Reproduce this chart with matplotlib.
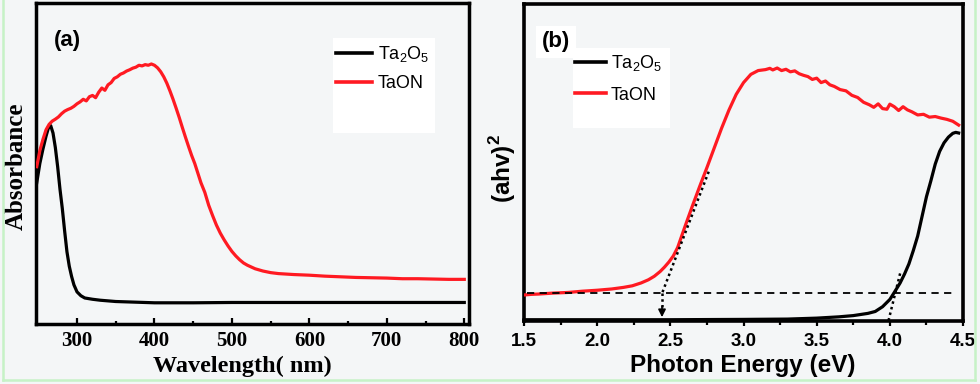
import matplotlib
matplotlib.use("Agg")
import matplotlib.pyplot as plt
from matplotlib.patches import Rectangle
from matplotlib.lines import Line2D

# ---------------- data: panel (a) ----------------
wl_taon = [248, 252, 256, 260, 264, 268, 272, 276, 280, 284, 288, 292, 296, 300, 304, 308,
           312, 316, 320, 324, 328, 332, 336, 340, 344, 348, 352, 356, 360, 364, 368, 372,
           376, 380, 384, 388, 392, 396, 400, 404, 408, 412, 416, 420, 424, 428, 432, 436,
           440, 444, 448, 452, 456, 460, 465, 470, 475, 480, 485, 490, 495, 500, 505, 510,
           515, 520, 530, 540, 550, 560, 580, 600, 620, 640, 660, 680, 700, 720, 740, 760,
           780, 800]
abs_taon = [0.490, 0.540, 0.575, 0.605, 0.622, 0.632, 0.638, 0.645, 0.655, 0.663, 0.668, 0.672,
            0.678, 0.686, 0.692, 0.700, 0.695, 0.708, 0.712, 0.705, 0.722, 0.735, 0.728, 0.745,
            0.752, 0.765, 0.770, 0.778, 0.782, 0.788, 0.792, 0.797, 0.800, 0.806, 0.804, 0.808,
            0.806, 0.810, 0.806, 0.798, 0.786, 0.770, 0.750, 0.726, 0.700, 0.672, 0.643, 0.612,
            0.582, 0.553, 0.525, 0.500, 0.470, 0.440, 0.410, 0.370, 0.338, 0.308, 0.283, 0.262,
            0.243, 0.226, 0.212, 0.200, 0.190, 0.183, 0.172, 0.165, 0.160, 0.157, 0.154, 0.152,
            0.149, 0.147, 0.145, 0.144, 0.143, 0.141, 0.141, 0.140, 0.139, 0.139]

wl_ta2o5 = [248, 252, 256, 260, 263, 266, 269, 272, 275, 278, 281, 284, 287, 290, 293, 296,
            300, 305, 310, 320, 330, 350, 400, 450, 500, 600, 700, 800]
abs_ta2o5 = [0.440, 0.500, 0.545, 0.585, 0.610, 0.618, 0.595, 0.550, 0.490, 0.420, 0.360, 0.290,
             0.225, 0.180, 0.148, 0.122, 0.100, 0.088, 0.081, 0.077, 0.074, 0.070, 0.066, 0.066,
             0.067, 0.067, 0.067, 0.067]

# ---------------- data: panel (b) ----------------
e_taon = [1.50, 1.55, 1.60, 1.70, 1.80, 1.90, 2.00, 2.10, 2.18, 2.24, 2.30, 2.35, 2.39, 2.43,
          2.46, 2.49, 2.52, 2.55, 2.60, 2.65, 2.70, 2.75, 2.80, 2.85, 2.90, 2.95, 3.00, 3.05,
          3.10, 3.15, 3.18, 3.20, 3.23, 3.26, 3.29, 3.32, 3.35, 3.38, 3.41, 3.44, 3.47, 3.50,
          3.53, 3.56, 3.59, 3.62, 3.66, 3.70, 3.74, 3.78, 3.82, 3.86, 3.89, 3.92, 3.95, 3.98,
          4.00, 4.03, 4.06, 4.09, 4.12, 4.15, 4.19, 4.23, 4.27, 4.31, 4.35, 4.39, 4.43, 4.47]
ahv_taon = [0.082, 0.084, 0.085, 0.088, 0.090, 0.094, 0.097, 0.101, 0.106, 0.111, 0.120, 0.130,
            0.141, 0.156, 0.170, 0.186, 0.205, 0.232, 0.298, 0.362, 0.424, 0.484, 0.546, 0.608,
            0.665, 0.715, 0.752, 0.778, 0.790, 0.793, 0.797, 0.792, 0.798, 0.790, 0.794, 0.786,
            0.789, 0.780, 0.775, 0.771, 0.762, 0.766, 0.752, 0.757, 0.745, 0.740, 0.730, 0.726,
            0.712, 0.705, 0.690, 0.682, 0.674, 0.685, 0.670, 0.668, 0.684, 0.676, 0.664, 0.676,
            0.666, 0.660, 0.650, 0.652, 0.643, 0.645, 0.640, 0.636, 0.630, 0.618]

e_ta2o5 = [1.50, 2.00, 2.50, 3.00, 3.30, 3.50, 3.65, 3.75, 3.85, 3.90, 3.95, 4.00, 4.03, 4.07,
           4.10, 4.13, 4.16, 4.19, 4.22, 4.25, 4.28, 4.31, 4.34, 4.37, 4.40, 4.43, 4.45, 4.47]
ahv_ta2o5 = [0.004, 0.004, 0.004, 0.005, 0.006, 0.009, 0.013, 0.017, 0.024, 0.030, 0.045, 0.068,
             0.090, 0.120, 0.148, 0.180, 0.222, 0.268, 0.330, 0.392, 0.442, 0.495, 0.535, 0.562,
             0.580, 0.592, 0.595, 0.593]

base_x = [1.52, 4.43]
base_y = [0.087, 0.087]
tan_taon_x = [2.762, 2.443]
tan_taon_y = [0.471, 0.087]
gap_taon = 2.443
tan_ta2o5_x = [4.07, 3.99]
tan_ta2o5_y = [0.15, 0.0]

labels = ["Ta$_\\mathregular{2}$O$_\\mathregular{5}$", "TaON"]
RED = "#ff1a22"
BG = "#f4f6f7"

plt.rcParams["mathtext.fontset"] = "custom"
plt.rcParams["mathtext.rm"] = "Liberation Sans"
plt.rcParams["mathtext.bf"] = "Liberation Sans:bold"

fig = plt.figure(figsize=(9.8, 3.84), dpi=100, facecolor=BG)

SERIF = "Liberation Serif"
SANS = "Liberation Sans"

# ---------------- panel (a) ----------------
ax1 = fig.add_axes([0.0367, 0.1563, 0.4418, 0.8359], facecolor=BG)
ax1.add_patch(Rectangle((0.687, 0.594), 0.234, 0.296, transform=ax1.transAxes,
                        facecolor="white", edgecolor="none", zorder=1))
l1, = ax1.plot(wl_ta2o5, abs_ta2o5, color="black", lw=2.3, zorder=3)
l2, = ax1.plot(wl_taon, abs_taon, color=RED, lw=2.3, zorder=4)
ax1.set_xlim(247, 806)
ax1.set_ylim(0, 1)
ax1.set_xticks([300, 400, 500, 600, 700, 800])
ax1.set_xticks([350, 450, 550, 650, 750], minor=True)
ax1.set_yticks([])
ax1.tick_params(axis="x", which="major", direction="in", length=4, width=1.6, pad=5,
                top=False, labelsize=15)
ax1.tick_params(axis="x", which="minor", direction="in", length=2.5, width=1.6, top=False)
for lab in ax1.get_xticklabels():
    lab.set_fontfamily(SERIF)
    lab.set_fontweight("bold")
for sp in ax1.spines.values():
    sp.set_linewidth(2.5)
ax1.set_xlabel("Wavelength( nm)", fontfamily=SERIF, fontweight="bold", fontsize=17.5)
ax1.xaxis.set_label_coords(0.476, -0.1)
ax1.set_ylabel("Absorbance", fontfamily=SERIF, fontweight="bold", fontsize=18)
ax1.yaxis.set_label_coords(-0.02, 0.49)
ax1.text(0.0716, 0.882, "(a)", transform=ax1.transAxes, ha="center", va="center",
         fontfamily=SANS, fontweight="bold", fontsize=16)
leg1 = ax1.legend([l1, l2], labels, loc="upper left", bbox_to_anchor=(0.693, 0.872),
                  frameon=False, borderpad=0, borderaxespad=0, handlelength=2.0,
                  handletextpad=0.3, labelspacing=0.6, prop={"family": SANS, "size": 13})
for h in leg1.legend_handles:
    h.set_linewidth(2.6)

# ---------------- panel (b) ----------------
ax2 = fig.add_axes([0.5347, 0.1641, 0.4480, 0.8255], facecolor=BG)
ax2.add_patch(Rectangle((0.111, 0.61), 0.222, 0.25, transform=ax2.transAxes,
                        facecolor="white", edgecolor="none", zorder=1))
m1, = ax2.plot(e_ta2o5, ahv_ta2o5, color="black", lw=2.3, zorder=3, clip_on=False)
m2, = ax2.plot(e_taon, ahv_taon, color=RED, lw=2.3, zorder=4)
ax2.plot(base_x, base_y, color="black", lw=1.3, ls=(0, (4, 3)), zorder=5)
ax2.plot(tan_taon_x, tan_taon_y, color="black", lw=1.8, ls=(0, (1, 1.3)), zorder=5)
ax2.plot([gap_taon, gap_taon], [base_y[0], 0.035], color="black", lw=1.8,
         ls=(0, (1, 1.3)), zorder=5)
ax2.annotate("", xy=(gap_taon, 0.012), xytext=(gap_taon, 0.045),
             arrowprops=dict(arrowstyle="-|>", color="black", lw=1.2, mutation_scale=11,
                             shrinkA=0, shrinkB=0), zorder=6)
ax2.plot(tan_ta2o5_x, tan_ta2o5_y, color="black", lw=1.8, ls=(0, (1, 1.3)), zorder=5)
ax2.set_xlim(1.5, 4.5)
ax2.set_ylim(0, 1)
ax2.set_xticks([1.5, 2.0, 2.5, 3.0, 3.5, 4.0, 4.5])
ax2.set_xticks([1.75, 2.25, 2.75, 3.25, 3.75, 4.25], minor=True)
ax2.set_yticks([])
ax2.tick_params(axis="x", which="major", direction="out", length=3.5, width=1.6, pad=5,
                top=False, labelsize=13.5)
ax2.tick_params(axis="x", which="minor", direction="out", length=3, width=1.6, top=False)
for lab in ax2.get_xticklabels():
    lab.set_fontfamily(SANS)
    lab.set_fontweight("bold")
for sp in ax2.spines.values():
    sp.set_linewidth(2.6)
ax2.set_xlabel("Photon Energy (eV)", fontfamily=SANS, fontweight="bold", fontsize=17.5)
ax2.xaxis.set_label_coords(0.498, -0.105)
ax2.set_ylabel("(ahv)$^\\mathregular{2}$", fontfamily=SANS, fontweight="bold", fontsize=17.5)
ax2.yaxis.set_label_coords(-0.014, 0.48)
ax2.text(0.073, 0.881, "(b)", transform=ax2.transAxes, ha="center", va="center",
         fontfamily=SANS, fontweight="bold", fontsize=16,
         bbox=dict(facecolor="white", edgecolor="none", pad=4))
leg2 = ax2.legend([m1, m2], labels, loc="upper left", bbox_to_anchor=(0.116, 0.845),
                  frameon=False, borderpad=0, borderaxespad=0, handlelength=1.7,
                  handletextpad=0.3, labelspacing=0.75, prop={"family": SANS, "size": 13})
for h in leg2.legend_handles:
    h.set_linewidth(2.6)

# pale green frame (left, bottom, right)
GREEN = "#c6f2c6"
fig.add_artist(Line2D([2.7 / 980, 2.7 / 980], [4 / 384, 1.0], color=GREEN, lw=1.8,
                      transform=fig.transFigure))
fig.add_artist(Line2D([2.7 / 980, 975 / 980], [4 / 384, 4 / 384], color=GREEN, lw=1.8,
                      transform=fig.transFigure))
fig.add_artist(Line2D([975 / 980, 975 / 980], [4 / 384, 1.0], color=GREEN, lw=1.8,
                      transform=fig.transFigure))

fig.savefig("out.png", dpi=100, facecolor=BG)
